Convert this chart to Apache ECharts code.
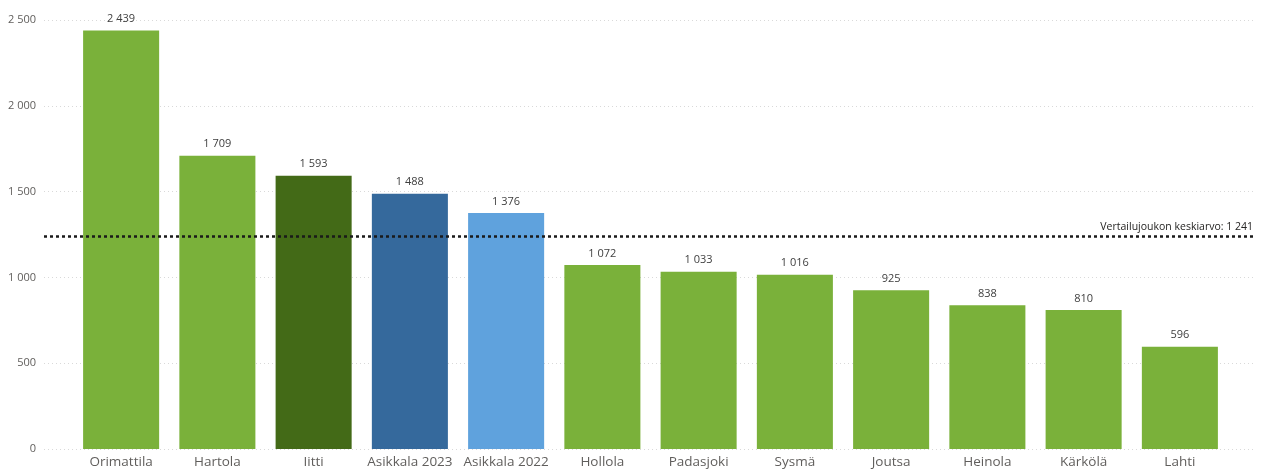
<!DOCTYPE html>
<html><head><meta charset="utf-8">
<script src="https://cdn.jsdelivr.net/npm/echarts@6/dist/echarts.min.js"></script>
<style>html,body{margin:0;padding:0;background:#fff}#c{width:1261px;height:475px}</style>
</head><body><div id="c"></div>
<script>
const categories = ["Orimattila","Hartola","Iitti","Asikkala 2023","Asikkala 2022","Hollola","Padasjoki","Sysmä","Joutsa","Heinola","Kärkölä","Lahti"];
const values = [2439,1709,1593,1488,1376,1072,1033,1016,925,838,810,596];
const barColors = ["#7AB13A","#7AB13A","#436A17","#35699C","#5FA2DD","#7AB13A","#7AB13A","#7AB13A","#7AB13A","#7AB13A","#7AB13A","#7AB13A"];
const averageValue = 1241;
const averageLabel = "Vertailujoukon keskiarvo";
const yTicks = [0,500,1000,1500,2000,2500];

function fmt(v){ return String(Math.round(v)).replace(/\B(?=(\d{3})+(?!\d))/g, " "); }

const font = "'Open Sans', 'Noto Sans', sans-serif";
const chart = echarts.init(document.getElementById('c'));
chart.setOption({
  animation:false,
  grid:[
    {left:44,right:6,top:20,bottom:26,containLabel:false},
    {left:73,right:33,top:20,bottom:26,containLabel:false}
  ],
  xAxis:[
    {gridIndex:0,type:'value',min:0,max:1,show:false},
    {gridIndex:1,type:'category',data:categories,
     axisLine:{show:false},axisTick:{show:false},
     axisLabel:{interval:0,color:'#605E5C',fontSize:13.5,fontFamily:font,margin:6}}
  ],
  yAxis:[
    {gridIndex:0,type:'value',min:yTicks[0],max:yTicks[yTicks.length-1],interval:500,
     axisLine:{show:false},axisTick:{show:false},
     axisLabel:{color:'#605E5C',fontSize:11,fontFamily:font,margin:8,formatter:v=>fmt(v)},
     splitLine:{lineStyle:{color:'#D9D9D9',type:[1,3],width:1}}},
    {gridIndex:1,type:'value',min:yTicks[0],max:yTicks[yTicks.length-1],interval:500,show:false,splitLine:{show:false}}
  ],
  series:[
    {type:'line',xAxisIndex:0,yAxisIndex:0,data:[],
     markLine:{symbol:'none',silent:true,
       lineStyle:{color:'#1a1a1a',type:[3,3],width:2.5},
       label:{position:'insideEndTop',formatter:averageLabel+': '+fmt(averageValue),color:'#252423',fontSize:10.5,fontFamily:font,distance:[2,4]},
       data:[{yAxis:averageValue}]}},
    {type:'bar',xAxisIndex:1,yAxisIndex:1,barWidth:'79%',
     data:values.map((v,i)=>({value:v,itemStyle:{color:barColors[i]}})),
     label:{show:true,position:'top',color:'#404040',fontSize:11,fontFamily:font,distance:6,formatter:p=>fmt(p.value)}}
  ]
});
</script></body></html>
